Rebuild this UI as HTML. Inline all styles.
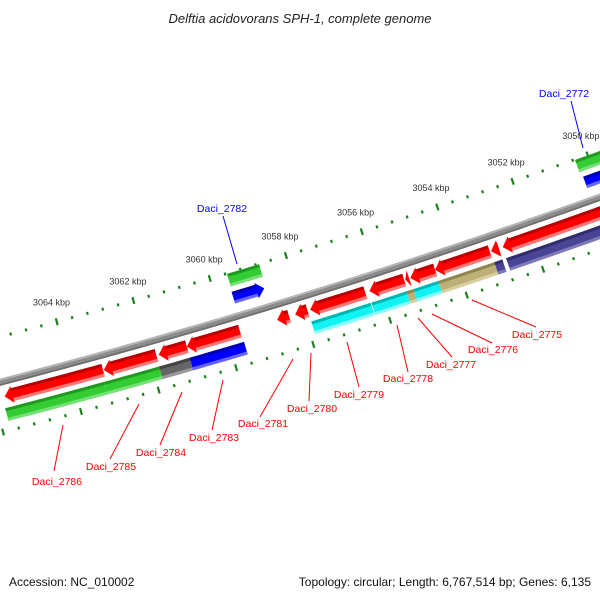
<!DOCTYPE html>
<html><head><meta charset="utf-8"><style>
html,body{margin:0;padding:0;background:#fff;}
svg{display:block;font-family:"Liberation Sans",sans-serif;}
</style></head><body>
<svg id="map" width="600" height="600" viewBox="0 0 600 600">
<rect x="0" y="0" width="600" height="600" fill="#fff"/>
<text x="300" y="23" text-anchor="middle" font-size="13" font-style="italic" fill="#222">Delftia acidovorans SPH-1, complete genome</text>
<g id="ticks"></g>
<g id="backbone"></g>
<g id="genes"></g>
<g id="labels"></g>
<text x="9" y="586" font-size="12" fill="#111">Accession: NC_010002</text>
<text x="591" y="586" font-size="12" fill="#111" text-anchor="end">Topology: circular; Length: 6,767,514 bp; Genes: 6,135</text>
</svg>
<script>
// data (kbp)
const majorTicks = [3050, 3052, 3054, 3056, 3058, 3060, 3062, 3064];
const tickLabels = ["3050 kbp","3052 kbp","3054 kbp","3056 kbp","3058 kbp","3060 kbp","3062 kbp","3064 kbp"];
const redStarts = [3065.74,3063.18,3061.76,3061.03,3058.68,3058.21,3057.82,3056.27,3055.33,3055.20,3054.55,3053.08,3052.77];
const redEnds   = [3063.20,3061.82,3061.03,3059.65,3058.37,3057.89,3056.38,3055.36,3055.23,3054.55,3053.11,3052.87,3049.60];
const featStarts = [3065.80,3063.26,3061.83,3061.04,3057.88,3056.31,3055.39,3055.21,3054.56,3053.09,3052.78];
const featEnds   = [3063.26,3061.83,3061.04,3059.63,3056.33,3055.39,3055.21,3054.56,3053.09,3052.88,3049.60];
const featTypes  = ["green","green","gray","blue","cyan","cyan","tan","cyan","tan","purple","purple"];
const outerGreenStarts = [3059.55,3050.34];
const outerGreenEnds   = [3058.71,3049.60];
const outerBlueStarts  = [3059.57,3050.29];
const outerBlueEnds    = [3058.76,3049.60];
const labelNames = ["Daci_2786","Daci_2785","Daci_2784","Daci_2783","Daci_2781","Daci_2780","Daci_2779","Daci_2778","Daci_2777","Daci_2776","Daci_2775","Daci_2782","Daci_2772"];

// layout
const CX=-1724.7, CY=-6276, R=6878;
const RAD = Math.PI/180;
function ang(k){return (70.89+(k-3052)*0.33333)*RAD;}
function pt(k,r){const t=ang(k);return [CX+r*Math.cos(t),CY+r*Math.sin(t)];}
function arcPts(k1,k2,r){const n=Math.max(2,Math.ceil(Math.abs(k1-k2)/0.25)+1);const a=[];for(let i=0;i<n;i++){a.push(pt(k1+(k2-k1)*i/(n-1),r));}return a;}
function ptsStr(a){return a.map(p=>p[0].toFixed(2)+","+p[1].toFixed(2)).join(" ");}
const NS="http://www.w3.org/2000/svg";
const COLORS={red:["#ff0000","#b80000","#ff7777"],green:["#33cc33","#1f9a1f","#77e077"],blue:["#0000ff","#0000b0","#6666ff"],gray:["#666666","#444444","#999999"],cyan:["#11f2f2","#00b5b5","#88ffff"],tan:["#bdb076","#8f854f","#d8cfa0"],purple:["#4a4494","#312c6e","#7e79b8"]};

function poly(parent,pts,fill,name){
  const p=document.createElementNS(NS,"polygon");
  p.setAttribute("points",ptsStr(pts));
  p.setAttribute("fill",fill);
  
  
  parent.appendChild(p);return p;
}
function gene(parent,s,e,r,h,type,dir,name){
  const c=COLORS[type];const g=document.createElementNS(NS,"g");
  
  
  parent.appendChild(g);
  const head=0.2;const top=r-h/2,bot=r+h/2;
  let bs=s,be=e,pts;
  if(dir==="L"){
    const hb=Math.max(e,s-head);bs=hb;
    pts=[pt(hb,top-2),pt(s,r),pt(hb,bot+2)].concat(arcPts(hb,e,bot)).concat(arcPts(e,hb,top));
  }else if(dir==="R"){
    const hb=Math.min(s,e+head);be=hb;
    pts=arcPts(s,hb,top).concat([pt(hb,top-2),pt(e,r),pt(hb,bot+2)]).concat(arcPts(hb,s,bot));
  }else{
    pts=arcPts(s,e,top).concat(arcPts(e,s,bot));
  }
  poly(g,pts,c[0],name+"-body");
  if(bs-be>0.01){
    poly(g,arcPts(bs,be,top).concat(arcPts(be,bs,top+3)),c[1],name+"-top-shade");
    poly(g,arcPts(bs,be,bot-3).concat(arcPts(be,bs,bot)),c[2],name+"-bottom-shade");
  }
}

// tick rings
const tg=document.getElementById("ticks");
const rOut=R-44, rIn=R+49;
function tick(k,r,len,name){
  const a=pt(k,r-len/2),b=pt(k,r+len/2);
  const l=document.createElementNS(NS,"line");
  l.setAttribute("x1",a[0]);l.setAttribute("y1",a[1]);l.setAttribute("x2",b[0]);l.setAttribute("y2",b[1]);
  l.setAttribute("stroke","#1c801c");l.setAttribute("stroke-width","2.2");
  
  
  tg.appendChild(l);
}
for(let i=0;i<=42;i++){
  const k=3049.6+i*0.4;const isMajor=Math.abs(k/2-Math.round(k/2))<0.01;
  tick(k,rOut,isMajor?7:3,isMajor?"major-tick-outer":"minor-tick-outer");
  tick(k,rIn,isMajor?7:3,isMajor?"major-tick-inner":"minor-tick-inner");
}
majorTicks.forEach((k,i)=>{
  const p=pt(k,R-64);
  const t=document.createElementNS(NS,"text");
  t.setAttribute("x",p[0]);t.setAttribute("y",p[1]+3);t.setAttribute("text-anchor","middle");
  t.setAttribute("font-size","9");t.setAttribute("fill","#333");
  t.textContent=tickLabels[i];
  
  
  tg.appendChild(t);
});

// backbone
const bb=document.getElementById("backbone");
poly(bb,arcPts(3066.2,3049.5,R-3.5).concat(arcPts(3049.5,3066.2,R+3.5)),"#8c8c8c","backbone-band");
poly(bb,arcPts(3066.2,3049.5,R-3.5).concat(arcPts(3049.5,3066.2,R-1.5)),"#b5b5b5","backbone-highlight");
poly(bb,arcPts(3066.2,3049.5,R+1.8).concat(arcPts(3049.5,3066.2,R+3.5)),"#6e6e6e","backbone-shadow");

// genes
const gg=document.getElementById("genes");
redStarts.forEach((s,i)=>gene(gg,s,redEnds[i],R+15,13,"red","L","cds-reverse-"+i));
featStarts.forEach((s,i)=>gene(gg,s,featEnds[i],R+33,13,featTypes[i],"N","feature-"+featTypes[i]+"-"+i));
outerGreenStarts.forEach((s,i)=>gene(gg,s,outerGreenEnds[i],R-37,13,"green","N","outer-green-"+i));
outerBlueStarts.forEach((s,i)=>gene(gg,s,outerBlueEnds[i],R-19,12,"blue","R","outer-cds-forward-"+i));

// labels
const labelX=[57,111,161,214,263,312,359,408,451,493,537,222,564];
const labelY=[485,470,456,441,427,412,398,382,368,353,338,212,97];
const lineFrom=[[63,425],[139,404],[182,392],[223,380],[293,359],[311,353],[347,342],[397,325],[418,318],[432,314],[472,300],[223,216],[571,101]];
const lineTo=[[54,471],[110,459],[160,445],[212,430],[260,417],[309,401],[359,387],[408,372],[452,357],[492,343],[536,327],[237,264],[583,148]];
const lg=document.getElementById("labels");
labelNames.forEach((n,i)=>{
  const col=i>=11?"#0000ff":"#ff0000";
  const l=document.createElementNS(NS,"line");
  l.setAttribute("x1",lineFrom[i][0]);l.setAttribute("y1",lineFrom[i][1]);
  l.setAttribute("x2",lineTo[i][0]);l.setAttribute("y2",lineTo[i][1]);
  l.setAttribute("stroke",col);l.setAttribute("stroke-width","1");
  
  
  lg.appendChild(l);
  const t=document.createElementNS(NS,"text");
  t.setAttribute("x",labelX[i]);t.setAttribute("y",labelY[i]);t.setAttribute("text-anchor","middle");
  t.setAttribute("font-size","10.5");t.setAttribute("fill",col);
  t.textContent=n;
  
  
  lg.appendChild(t);
});
</script>
</body></html>
